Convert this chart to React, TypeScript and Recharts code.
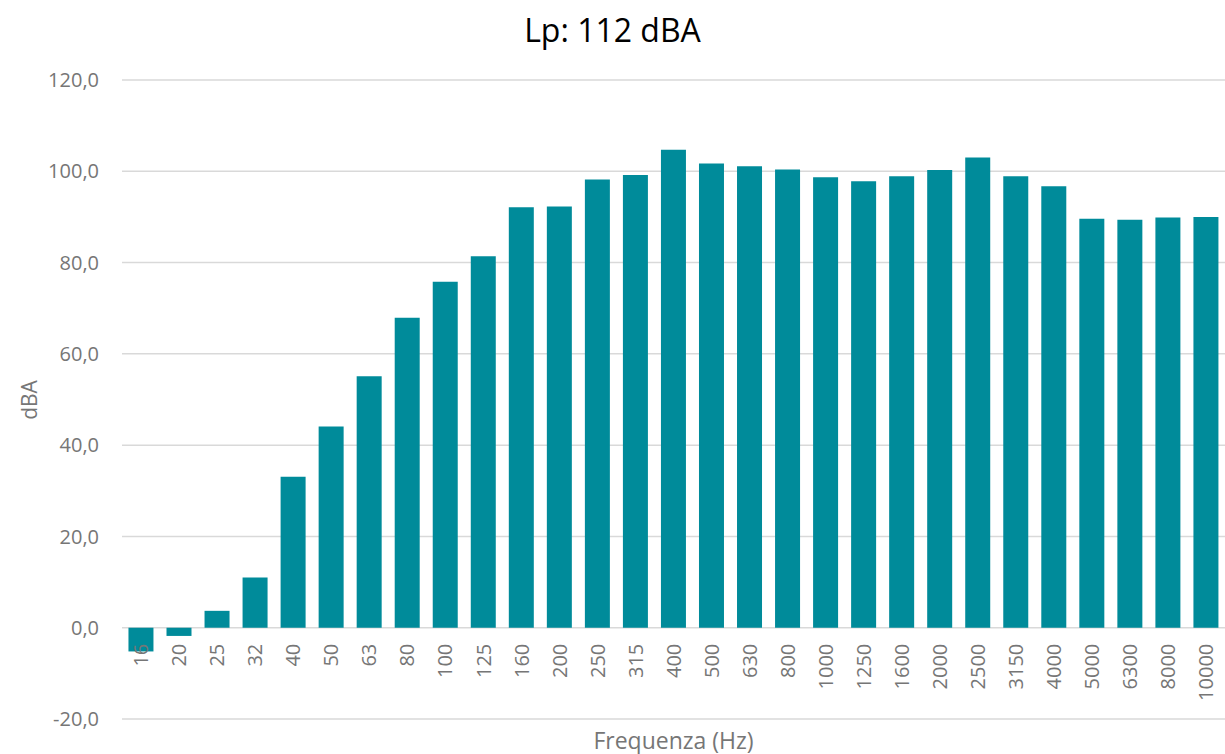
import React from "react";
import { Bar, BarChart, CartesianGrid, XAxis, YAxis } from "recharts";

const frequencies = [
  "16", "20", "25", "32", "40", "50", "63", "80", "100", "125", "160", "200",
  "250", "315", "400", "500", "630", "800", "1000", "1250", "1600", "2000",
  "2500", "3150", "4000", "5000", "6300", "8000", "10000",
];

const levels = [
  -5.2, -1.8, 3.7, 11.0, 33.1, 44.1, 55.1, 67.9, 75.8, 81.4, 92.1, 92.3,
  98.2, 99.2, 104.7, 101.7, 101.1, 100.4, 98.7, 97.8, 98.9, 100.3,
  103.0, 98.9, 96.7, 89.6, 89.4, 89.9, 90.0,
];

const yTicks = [-20, 0, 20, 40, 60, 80, 100, 120];

const data = frequencies.map((f, i) => ({ freq: f, dba: levels[i] }));

const W = 1225;
const H = 754;
const TOP = 80;
const XAXIS_H = 35;
const PLOT_H = H - TOP - XAXIS_H;
// distance from the bottom of the plot up to the zero line
const ZERO_UP = (PLOT_H * 20) / 140;

const FONT = "'Open Sans', 'Noto Sans', sans-serif";
const GREY = "#767676";

function FreqTick(props: any) {
  const { x, y, payload } = props;
  const yy = y - ZERO_UP + 16;
  return (
    <text
      x={x}
      y={yy}
      transform={`rotate(-90 ${x} ${yy})`}
      textAnchor="end"
      dy="0.36em"
      fill={GREY}
      fontSize={20}
      fontFamily={FONT}
    >
      {payload.value}
    </text>
  );
}

export default function App() {
  return (
    <div style={{ position: "absolute", left: 0, top: 0, width: W, height: H, fontFamily: FONT }}>
      <div
        style={{
          position: "absolute",
          top: 8,
          left: 0,
          width: W,
          textAlign: "center",
          fontSize: 32,
          lineHeight: "44px",
          color: "#000",
        }}
      >
        Lp: 112 dBA
      </div>
      <div
        style={{
          position: "absolute",
          left: 29 - 30,
          top: 400 - 14,
          width: 60,
          height: 28,
          lineHeight: "28px",
          textAlign: "center",
          transform: "rotate(-90deg)",
          fontSize: 21,
          color: GREY,
        }}
      >
        dBA
      </div>
      <div
        style={{
          position: "absolute",
          left: 122,
          top: 740 - 15,
          width: W - 122,
          height: 30,
          lineHeight: "30px",
          textAlign: "center",
          fontSize: 23,
          color: GREY,
        }}
      >
        Frequenza (Hz)
      </div>
      <BarChart
        width={W}
        height={H}
        data={data}
        margin={{ top: TOP, right: 0, bottom: 0, left: 0 }}
        barCategoryGap="17%"
      >
        <CartesianGrid vertical={false} stroke="#d9d9d9" strokeWidth={1.5} />
        <XAxis
          dataKey="freq"
          height={XAXIS_H}
          interval={0}
          axisLine={false}
          tickLine={false}
          tickSize={0}
          tickMargin={0}
          tick={<FreqTick />}
        />
        <YAxis
          width={122}
          domain={[-20, 120]}
          ticks={yTicks}
          axisLine={false}
          tickLine={false}
          tickSize={0}
          tickMargin={23}
          tick={{ fill: GREY, fontSize: 20, fontFamily: FONT }}
          tickFormatter={(v: number) => v.toFixed(1).replace(".", ",")}
        />
        <Bar dataKey="dba" fill="#008b9a" isAnimationActive={false} />
      </BarChart>
    </div>
  );
}
